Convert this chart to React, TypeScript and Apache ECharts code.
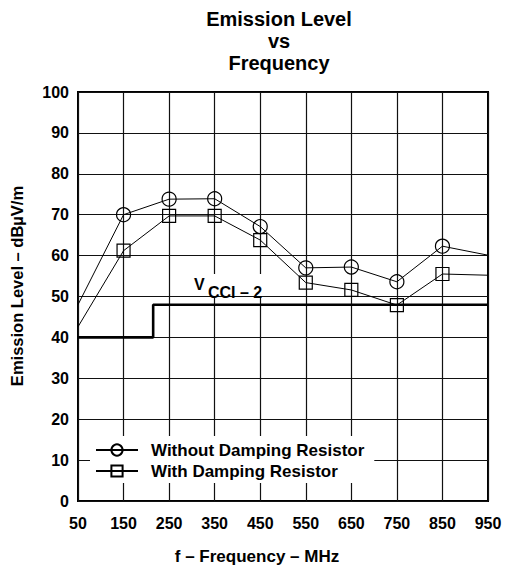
import React, { useEffect, useRef } from "react";
import * as echarts from "echarts";

// Data
const freqs = [50, 150, 250, 350, 450, 550, 650, 750, 850, 950];
const withoutDamping = [48, 70, 73.8, 73.9, 67.1, 57.0, 57.2, 53.6, 62.3, 60.1];
const withDamping = [42.6, 61.2, 69.7, 69.7, 63.8, 53.4, 51.6, 47.9, 55.5, 55.2];
const vcciFreq = [50, 215, 215, 950];
const vcciLevel = [40, 40, 48, 48];
const xTicks = [50, 150, 250, 350, 450, 550, 650, 750, 850, 950];
const yTicks = [0, 10, 20, 30, 40, 50, 60, 70, 80, 90, 100];

const X0 = 50; // axis offset so that ticks start at a multiple of the interval
const FONT = "'Liberation Sans', Arial, Helvetica, sans-serif";

function markerPoints(fs: number[], vs: number[]) {
  return fs.map((f, i) => {
    const item: any = { value: [f - X0, vs[i]] };
    if (i === 0 || i === fs.length - 1) item.symbol = "none";
    return item;
  });
}

export default function App() {
  const ref = useRef<HTMLDivElement>(null);
  useEffect(() => {
    if (!ref.current) return;
    const chart = echarts.init(ref.current, undefined, { renderer: "svg" });
    const markerStyle = {
      color: "rgba(255,255,255,0)",
      borderColor: "#000",
      borderWidth: 1.2,
    };
    chart.setOption({
      animation: false,
      backgroundColor: "#fff",
      textStyle: { fontFamily: FONT, color: "#000" },
      title: {
        text: "Emission Level\nvs\nFrequency",
        left: 274,
        top: 3,
        textAlign: "center",
        textStyle: {
          fontFamily: FONT,
          fontWeight: "bold",
          fontSize: 20,
          lineHeight: 22,
          color: "#000",
        },
      },
      grid: {
        left: 78,
        right: 17,
        top: 92,
        bottom: 68,
        show: true,
        borderColor: "#000",
        borderWidth: 2,
        backgroundColor: "transparent",
      },
      legend: {
        orient: "vertical",
        left: 90,
        top: 436,
        padding: [5, 10, 3, 5],
        backgroundColor: "#fff",
        itemWidth: 42,
        itemHeight: 14,
        itemGap: 3,
        data: ["Without Damping Resistor", "With Damping Resistor"],
        textStyle: {
          fontFamily: FONT,
          fontWeight: "bold",
          fontSize: 17,
          lineHeight: 18,
          color: "#000",
          padding: [0, 0, 0, 8],
        },
      },
      xAxis: {
        type: "value",
        min: 0,
        max: xTicks[xTicks.length - 1] - X0,
        interval: 100,
        axisLine: { show: false },
        axisTick: { show: false },
        axisLabel: {
          margin: 14,
          fontFamily: FONT,
          fontWeight: "bold",
          fontSize: 16,
          color: "#000",
          formatter: (v: number) => String(v + X0),
        },
        splitLine: { show: true, lineStyle: { color: "#111", width: 1.2 } },
      },
      yAxis: {
        type: "value",
        min: yTicks[0],
        max: yTicks[yTicks.length - 1],
        interval: 10,
        axisLine: { show: false },
        axisTick: { show: false },
        axisLabel: {
          margin: 9,
          fontFamily: FONT,
          fontWeight: "bold",
          fontSize: 16,
          color: "#000",
        },
        splitLine: { show: true, lineStyle: { color: "#111", width: 1.2 } },
      },
      series: [
        {
          name: "Without Damping Resistor",
          type: "line",
          data: markerPoints(freqs, withoutDamping),
          symbol: "circle",
          symbolSize: 14,
          showAllSymbol: true,
          itemStyle: markerStyle,
          lineStyle: { color: "#000", width: 1 },
          z: 5,
        },
        {
          name: "With Damping Resistor",
          type: "line",
          data: markerPoints(freqs, withDamping),
          symbol: "rect",
          symbolSize: 13,
          showAllSymbol: true,
          itemStyle: markerStyle,
          lineStyle: { color: "#000", width: 1 },
          z: 5,
        },
        {
          name: "VCCI-2",
          type: "line",
          data: vcciFreq.map((f, i) => [f - X0, vcciLevel[i]]),
          symbol: "none",
          lineStyle: { color: "#000", width: 2.6 },
          z: 4,
        },
      ],
      graphic: [
        {
          type: "rect",
          shape: { x: 177, y: 274, width: 105, height: 22 },
          style: { fill: "#fff" },
          z: 10,
        },
        {
          type: "text",
          x: 194,
          y: 276,
          style: {
            text: "V",
            fontFamily: FONT,
            fontWeight: "bold",
            fontSize: 16,
            fill: "#000",
          },
          z: 11,
        },
        {
          type: "text",
          x: 208,
          y: 284,
          style: {
            text: "CCI – 2",
            fontFamily: FONT,
            fontWeight: "bold",
            fontSize: 16,
            fill: "#000",
          },
          z: 11,
        },
        {
          type: "text",
          x: 257,
          y: 556,
          style: {
            text: "f – Frequency – MHz",
            fontFamily: FONT,
            fontWeight: "bold",
            fontSize: 17,
            fill: "#000",
            align: "center",
            verticalAlign: "middle",
          },
          z: 11,
        },
        {
          type: "text",
          x: 17,
          y: 286,
          rotation: Math.PI / 2,
          style: {
            text: "Emission Level – dBµV/m",
            fontFamily: FONT,
            fontWeight: "bold",
            fontSize: 16.5,
            fill: "#000",
            align: "center",
            verticalAlign: "middle",
          },
          z: 11,
        },
      ],
    });
    return () => chart.dispose();
  }, []);
  return (
    <div
      ref={ref}
      style={{ position: "absolute", left: 0, top: 0, width: 505, height: 569 }}
    />
  );
}
